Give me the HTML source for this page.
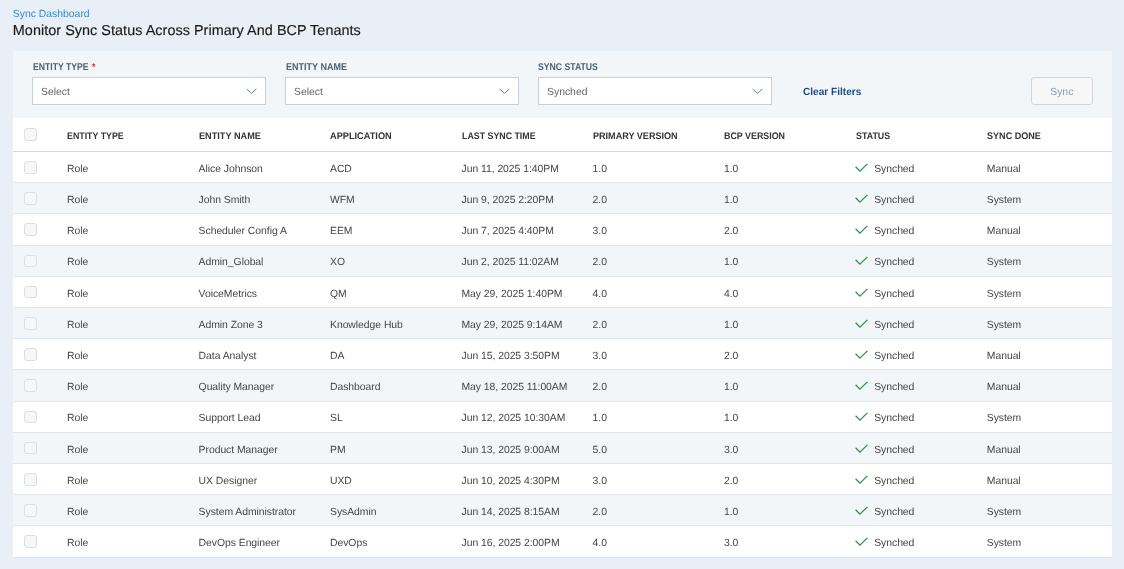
<!DOCTYPE html><html><head><meta charset="utf-8"><style>
*{box-sizing:border-box;margin:0;padding:0}
html,body{width:1124px;height:569px;overflow:hidden;background:#e8eff7;font-family:"Liberation Sans",sans-serif}
.wrap{position:absolute;left:0;top:0;width:1124px;height:569px;will-change:transform;overflow:hidden;text-rendering:geometricPrecision}
.a{position:absolute;white-space:nowrap}
.crumb{left:12.8px;top:7.3px;font-size:10.4px;line-height:16px;color:#2e8bcb}
.title{left:12.8px;top:21px;font-size:14.4px;line-height:20px;color:#1a1a1a;letter-spacing:0.045px;-webkit-text-stroke:0.15px #1a1a1a}
.panel{left:13px;top:51.2px;width:1099px;height:66.4px;background:#f3f6f9}
.tbl{left:13px;top:117.6px;width:1099px;height:439.6px;background:#fff}
.lbl{font-size:9.8px;line-height:12px;font-weight:700;color:#4a616f;transform:scaleX(0.885);transform-origin:0 0}
.lbl b{color:#d0343f;font-weight:700;margin-left:4px}
.inp{top:77.2px;height:27.6px;width:234px;background:#fff;border:1px solid #c6d0d9}
.inp span{position:absolute;left:8px;top:7px;font-size:10.4px;line-height:16px;color:#666666}
.inp svg{position:absolute;right:8px;top:10px}
.clear{left:803.2px;top:84.8px;font-size:10.4px;line-height:16px;font-weight:700;color:#1c4b87;transform:scaleX(0.97);transform-origin:0 0}
.btn{left:1030.8px;top:77.2px;width:62px;height:27.6px;background:#f7f7f7;border:1px solid #d2d5d9;border-radius:3px;font-size:10.4px;line-height:29.6px;text-align:center;color:#8b9cb0}
.hd{font-size:9.6px;line-height:12px;font-weight:700;color:#333333;transform:scaleX(0.92);transform-origin:0 0}
.cell{font-size:10.4px;line-height:16px;color:#454545;letter-spacing:-0.04px}
.cb{width:12.8px;height:12.8px;border:1px solid #dcdee2;background:#f6f7f8;border-radius:3px}
.rowbg{left:13px;width:1099px;height:31.2px}
.line{left:13px;width:1099px;height:1px}
</style></head><body><div class="wrap">
<div class="a crumb">Sync Dashboard</div>
<div class="a title">Monitor Sync Status Across Primary And BCP Tenants</div>
<div class="a panel"></div>
<div class="a tbl"></div>
<div class="a lbl" style="left:32.5px;top:61.6px;transform:scaleX(0.88)">ENTITY TYPE<b>*</b></div>
<div class="a lbl" style="left:285.8px;top:61.6px;transform:scaleX(0.92)">ENTITY NAME</div>
<div class="a lbl" style="left:538px;top:61.6px;transform:scaleX(0.885)">SYNC STATUS</div>
<div class="a inp" style="left:32px"><span>Select</span><svg width="11" height="7" viewBox="0 0 11 7"><path d="M0.7 1 L5.5 5.4 L10.3 1" fill="none" stroke="#62768a" stroke-width="0.95"/></svg></div>
<div class="a inp" style="left:285px"><span>Select</span><svg width="11" height="7" viewBox="0 0 11 7"><path d="M0.7 1 L5.5 5.4 L10.3 1" fill="none" stroke="#62768a" stroke-width="0.95"/></svg></div>
<div class="a inp" style="left:538px"><span>Synched</span><svg width="11" height="7" viewBox="0 0 11 7"><path d="M0.7 1 L5.5 5.4 L10.3 1" fill="none" stroke="#62768a" stroke-width="0.95"/></svg></div>
<div class="a clear">Clear Filters</div>
<div class="a btn">Sync</div>
<div class="a rowbg" style="top:182.8px;background:#f3f6f9"></div>
<div class="a rowbg" style="top:245.2px;background:#f3f6f9"></div>
<div class="a rowbg" style="top:307.6px;background:#f3f6f9"></div>
<div class="a rowbg" style="top:370.0px;background:#f3f6f9"></div>
<div class="a rowbg" style="top:432.4px;background:#f3f6f9"></div>
<div class="a rowbg" style="top:494.8px;background:#f3f6f9"></div>
<div class="a line" style="top:151.0px;background:#cfd9df"></div>
<div class="a line" style="top:182.2px;background:#dfe5ea"></div>
<div class="a line" style="top:213.4px;background:#dfe5ea"></div>
<div class="a line" style="top:244.6px;background:#dfe5ea"></div>
<div class="a line" style="top:275.8px;background:#dfe5ea"></div>
<div class="a line" style="top:307.0px;background:#dfe5ea"></div>
<div class="a line" style="top:338.2px;background:#dfe5ea"></div>
<div class="a line" style="top:369.4px;background:#dfe5ea"></div>
<div class="a line" style="top:400.6px;background:#dfe5ea"></div>
<div class="a line" style="top:431.8px;background:#dfe5ea"></div>
<div class="a line" style="top:463.0px;background:#dfe5ea"></div>
<div class="a line" style="top:494.2px;background:#dfe5ea"></div>
<div class="a line" style="top:525.4px;background:#dfe5ea"></div>
<div class="a line" style="top:556.6px;background:#dfe5ea"></div>
<div class="a cb" style="left:24.3px;top:128.2px"></div>
<div class="a hd" style="left:67.1px;top:130.9px;transform:scaleX(0.92)">ENTITY TYPE</div>
<div class="a hd" style="left:198.6px;top:130.9px;transform:scaleX(0.955)">ENTITY NAME</div>
<div class="a hd" style="left:330px;top:130.9px;transform:scaleX(0.96)">APPLICATION</div>
<div class="a hd" style="left:461.5px;top:130.9px;transform:scaleX(0.92)">LAST SYNC TIME</div>
<div class="a hd" style="left:592.6px;top:130.9px;transform:scaleX(0.945)">PRIMARY VERSION</div>
<div class="a hd" style="left:724px;top:130.9px;transform:scaleX(0.925)">BCP VERSION</div>
<div class="a hd" style="left:855.7px;top:130.9px;transform:scaleX(0.925)">STATUS</div>
<div class="a hd" style="left:986.8px;top:130.9px;transform:scaleX(0.945)">SYNC DONE</div>
<div class="a cb" style="left:24.3px;top:160.9px"></div>
<div class="a cell" style="left:67.1px;top:161.7px">Role</div>
<div class="a cell" style="left:198.6px;top:161.7px">Alice Johnson</div>
<div class="a cell" style="left:330px;top:161.7px">ACD</div>
<div class="a cell" style="left:461.5px;top:161.7px">Jun 11, 2025 1:40PM</div>
<div class="a cell" style="left:592.6px;top:161.7px">1.0</div>
<div class="a cell" style="left:724px;top:161.7px">1.0</div>
<div class="a cell" style="left:874.2px;top:161.7px"><svg width="14" height="10" viewBox="0 0 14 10" style="position:absolute;left:-19px;top:1.1px"><path d="M0.6 3.8 L4.9 8.1 L12.4 0.9" fill="none" stroke="#2b9243" stroke-width="1.3"/></svg>Synched</div>
<div class="a cell" style="left:986.8px;top:161.7px">Manual</div>
<div class="a cb" style="left:24.3px;top:192.1px"></div>
<div class="a cell" style="left:67.1px;top:192.9px">Role</div>
<div class="a cell" style="left:198.6px;top:192.9px">John Smith</div>
<div class="a cell" style="left:330px;top:192.9px">WFM</div>
<div class="a cell" style="left:461.5px;top:192.9px">Jun 9, 2025 2:20PM</div>
<div class="a cell" style="left:592.6px;top:192.9px">2.0</div>
<div class="a cell" style="left:724px;top:192.9px">1.0</div>
<div class="a cell" style="left:874.2px;top:192.9px"><svg width="14" height="10" viewBox="0 0 14 10" style="position:absolute;left:-19px;top:1.1px"><path d="M0.6 3.8 L4.9 8.1 L12.4 0.9" fill="none" stroke="#2b9243" stroke-width="1.3"/></svg>Synched</div>
<div class="a cell" style="left:986.8px;top:192.9px">System</div>
<div class="a cb" style="left:24.3px;top:223.3px"></div>
<div class="a cell" style="left:67.1px;top:224.1px">Role</div>
<div class="a cell" style="left:198.6px;top:224.1px">Scheduler Config A</div>
<div class="a cell" style="left:330px;top:224.1px">EEM</div>
<div class="a cell" style="left:461.5px;top:224.1px">Jun 7, 2025 4:40PM</div>
<div class="a cell" style="left:592.6px;top:224.1px">3.0</div>
<div class="a cell" style="left:724px;top:224.1px">2.0</div>
<div class="a cell" style="left:874.2px;top:224.1px"><svg width="14" height="10" viewBox="0 0 14 10" style="position:absolute;left:-19px;top:1.1px"><path d="M0.6 3.8 L4.9 8.1 L12.4 0.9" fill="none" stroke="#2b9243" stroke-width="1.3"/></svg>Synched</div>
<div class="a cell" style="left:986.8px;top:224.1px">Manual</div>
<div class="a cb" style="left:24.3px;top:254.5px"></div>
<div class="a cell" style="left:67.1px;top:255.3px">Role</div>
<div class="a cell" style="left:198.6px;top:255.3px">Admin_Global</div>
<div class="a cell" style="left:330px;top:255.3px">XO</div>
<div class="a cell" style="left:461.5px;top:255.3px">Jun 2, 2025 11:02AM</div>
<div class="a cell" style="left:592.6px;top:255.3px">2.0</div>
<div class="a cell" style="left:724px;top:255.3px">1.0</div>
<div class="a cell" style="left:874.2px;top:255.3px"><svg width="14" height="10" viewBox="0 0 14 10" style="position:absolute;left:-19px;top:1.1px"><path d="M0.6 3.8 L4.9 8.1 L12.4 0.9" fill="none" stroke="#2b9243" stroke-width="1.3"/></svg>Synched</div>
<div class="a cell" style="left:986.8px;top:255.3px">System</div>
<div class="a cb" style="left:24.3px;top:285.7px"></div>
<div class="a cell" style="left:67.1px;top:286.5px">Role</div>
<div class="a cell" style="left:198.6px;top:286.5px">VoiceMetrics</div>
<div class="a cell" style="left:330px;top:286.5px">QM</div>
<div class="a cell" style="left:461.5px;top:286.5px">May 29, 2025 1:40PM</div>
<div class="a cell" style="left:592.6px;top:286.5px">4.0</div>
<div class="a cell" style="left:724px;top:286.5px">4.0</div>
<div class="a cell" style="left:874.2px;top:286.5px"><svg width="14" height="10" viewBox="0 0 14 10" style="position:absolute;left:-19px;top:1.1px"><path d="M0.6 3.8 L4.9 8.1 L12.4 0.9" fill="none" stroke="#2b9243" stroke-width="1.3"/></svg>Synched</div>
<div class="a cell" style="left:986.8px;top:286.5px">System</div>
<div class="a cb" style="left:24.3px;top:316.9px"></div>
<div class="a cell" style="left:67.1px;top:317.7px">Role</div>
<div class="a cell" style="left:198.6px;top:317.7px">Admin Zone 3</div>
<div class="a cell" style="left:330px;top:317.7px">Knowledge Hub</div>
<div class="a cell" style="left:461.5px;top:317.7px">May 29, 2025 9:14AM</div>
<div class="a cell" style="left:592.6px;top:317.7px">2.0</div>
<div class="a cell" style="left:724px;top:317.7px">1.0</div>
<div class="a cell" style="left:874.2px;top:317.7px"><svg width="14" height="10" viewBox="0 0 14 10" style="position:absolute;left:-19px;top:1.1px"><path d="M0.6 3.8 L4.9 8.1 L12.4 0.9" fill="none" stroke="#2b9243" stroke-width="1.3"/></svg>Synched</div>
<div class="a cell" style="left:986.8px;top:317.7px">System</div>
<div class="a cb" style="left:24.3px;top:348.1px"></div>
<div class="a cell" style="left:67.1px;top:348.9px">Role</div>
<div class="a cell" style="left:198.6px;top:348.9px">Data Analyst</div>
<div class="a cell" style="left:330px;top:348.9px">DA</div>
<div class="a cell" style="left:461.5px;top:348.9px">Jun 15, 2025 3:50PM</div>
<div class="a cell" style="left:592.6px;top:348.9px">3.0</div>
<div class="a cell" style="left:724px;top:348.9px">2.0</div>
<div class="a cell" style="left:874.2px;top:348.9px"><svg width="14" height="10" viewBox="0 0 14 10" style="position:absolute;left:-19px;top:1.1px"><path d="M0.6 3.8 L4.9 8.1 L12.4 0.9" fill="none" stroke="#2b9243" stroke-width="1.3"/></svg>Synched</div>
<div class="a cell" style="left:986.8px;top:348.9px">Manual</div>
<div class="a cb" style="left:24.3px;top:379.3px"></div>
<div class="a cell" style="left:67.1px;top:380.1px">Role</div>
<div class="a cell" style="left:198.6px;top:380.1px">Quality Manager</div>
<div class="a cell" style="left:330px;top:380.1px">Dashboard</div>
<div class="a cell" style="left:461.5px;top:380.1px">May 18, 2025 11:00AM</div>
<div class="a cell" style="left:592.6px;top:380.1px">2.0</div>
<div class="a cell" style="left:724px;top:380.1px">1.0</div>
<div class="a cell" style="left:874.2px;top:380.1px"><svg width="14" height="10" viewBox="0 0 14 10" style="position:absolute;left:-19px;top:1.1px"><path d="M0.6 3.8 L4.9 8.1 L12.4 0.9" fill="none" stroke="#2b9243" stroke-width="1.3"/></svg>Synched</div>
<div class="a cell" style="left:986.8px;top:380.1px">Manual</div>
<div class="a cb" style="left:24.3px;top:410.5px"></div>
<div class="a cell" style="left:67.1px;top:411.3px">Role</div>
<div class="a cell" style="left:198.6px;top:411.3px">Support Lead</div>
<div class="a cell" style="left:330px;top:411.3px">SL</div>
<div class="a cell" style="left:461.5px;top:411.3px">Jun 12, 2025 10:30AM</div>
<div class="a cell" style="left:592.6px;top:411.3px">1.0</div>
<div class="a cell" style="left:724px;top:411.3px">1.0</div>
<div class="a cell" style="left:874.2px;top:411.3px"><svg width="14" height="10" viewBox="0 0 14 10" style="position:absolute;left:-19px;top:1.1px"><path d="M0.6 3.8 L4.9 8.1 L12.4 0.9" fill="none" stroke="#2b9243" stroke-width="1.3"/></svg>Synched</div>
<div class="a cell" style="left:986.8px;top:411.3px">System</div>
<div class="a cb" style="left:24.3px;top:441.7px"></div>
<div class="a cell" style="left:67.1px;top:442.5px">Role</div>
<div class="a cell" style="left:198.6px;top:442.5px">Product Manager</div>
<div class="a cell" style="left:330px;top:442.5px">PM</div>
<div class="a cell" style="left:461.5px;top:442.5px">Jun 13, 2025 9:00AM</div>
<div class="a cell" style="left:592.6px;top:442.5px">5.0</div>
<div class="a cell" style="left:724px;top:442.5px">3.0</div>
<div class="a cell" style="left:874.2px;top:442.5px"><svg width="14" height="10" viewBox="0 0 14 10" style="position:absolute;left:-19px;top:1.1px"><path d="M0.6 3.8 L4.9 8.1 L12.4 0.9" fill="none" stroke="#2b9243" stroke-width="1.3"/></svg>Synched</div>
<div class="a cell" style="left:986.8px;top:442.5px">Manual</div>
<div class="a cb" style="left:24.3px;top:472.9px"></div>
<div class="a cell" style="left:67.1px;top:473.7px">Role</div>
<div class="a cell" style="left:198.6px;top:473.7px">UX Designer</div>
<div class="a cell" style="left:330px;top:473.7px">UXD</div>
<div class="a cell" style="left:461.5px;top:473.7px">Jun 10, 2025 4:30PM</div>
<div class="a cell" style="left:592.6px;top:473.7px">3.0</div>
<div class="a cell" style="left:724px;top:473.7px">2.0</div>
<div class="a cell" style="left:874.2px;top:473.7px"><svg width="14" height="10" viewBox="0 0 14 10" style="position:absolute;left:-19px;top:1.1px"><path d="M0.6 3.8 L4.9 8.1 L12.4 0.9" fill="none" stroke="#2b9243" stroke-width="1.3"/></svg>Synched</div>
<div class="a cell" style="left:986.8px;top:473.7px">Manual</div>
<div class="a cb" style="left:24.3px;top:504.1px"></div>
<div class="a cell" style="left:67.1px;top:504.9px">Role</div>
<div class="a cell" style="left:198.6px;top:504.9px">System Administrator</div>
<div class="a cell" style="left:330px;top:504.9px">SysAdmin</div>
<div class="a cell" style="left:461.5px;top:504.9px">Jun 14, 2025 8:15AM</div>
<div class="a cell" style="left:592.6px;top:504.9px">2.0</div>
<div class="a cell" style="left:724px;top:504.9px">1.0</div>
<div class="a cell" style="left:874.2px;top:504.9px"><svg width="14" height="10" viewBox="0 0 14 10" style="position:absolute;left:-19px;top:1.1px"><path d="M0.6 3.8 L4.9 8.1 L12.4 0.9" fill="none" stroke="#2b9243" stroke-width="1.3"/></svg>Synched</div>
<div class="a cell" style="left:986.8px;top:504.9px">System</div>
<div class="a cb" style="left:24.3px;top:535.3px"></div>
<div class="a cell" style="left:67.1px;top:536.1px">Role</div>
<div class="a cell" style="left:198.6px;top:536.1px">DevOps Engineer</div>
<div class="a cell" style="left:330px;top:536.1px">DevOps</div>
<div class="a cell" style="left:461.5px;top:536.1px">Jun 16, 2025 2:00PM</div>
<div class="a cell" style="left:592.6px;top:536.1px">4.0</div>
<div class="a cell" style="left:724px;top:536.1px">3.0</div>
<div class="a cell" style="left:874.2px;top:536.1px"><svg width="14" height="10" viewBox="0 0 14 10" style="position:absolute;left:-19px;top:1.1px"><path d="M0.6 3.8 L4.9 8.1 L12.4 0.9" fill="none" stroke="#2b9243" stroke-width="1.3"/></svg>Synched</div>
<div class="a cell" style="left:986.8px;top:536.1px">System</div>
</div></body></html>
